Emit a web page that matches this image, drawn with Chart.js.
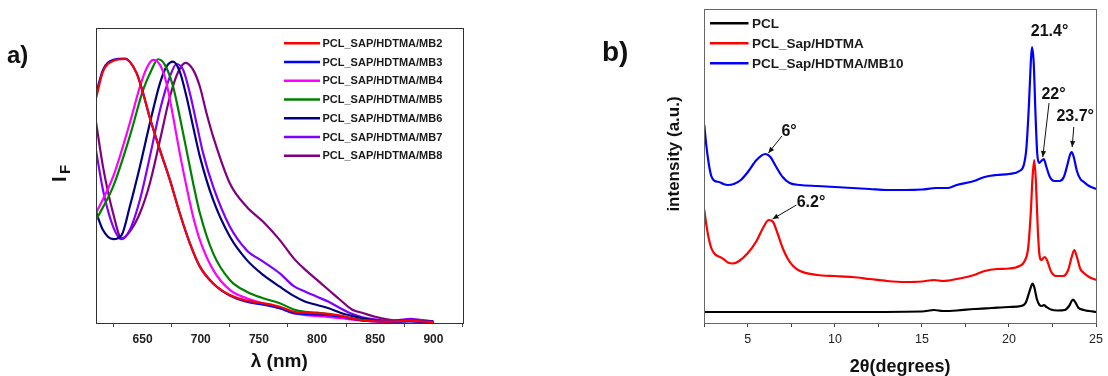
<!DOCTYPE html>
<html><head><meta charset="utf-8">
<script src="https://cdn.jsdelivr.net/npm/chart.js@4.4.1/dist/chart.umd.min.js"></script>
<style>
html,body{margin:0;padding:0;background:#fff;width:1108px;height:376px;overflow:hidden}
canvas{position:absolute;top:0}
#ca{left:0}
#cb{left:560px}
</style></head><body>
<canvas id="ca" width="480" height="376"></canvas>
<canvas id="cb" width="548" height="376"></canvas>
<script>
const FONT = '"Liberation Sans", Arial, Helvetica, sans-serif';

// ---------------- Panel a : fluorescence spectra ----------------
const namesA = ['PCL_SAP/HDTMA/MB2','PCL_SAP/HDTMA/MB3','PCL_SAP/HDTMA/MB4','PCL_SAP/HDTMA/MB5','PCL_SAP/HDTMA/MB6','PCL_SAP/HDTMA/MB7','PCL_SAP/HDTMA/MB8'];
const colorsA = ['#ff0000','#0000ff','#ff00ff','#008000','#000080','#8000ff','#800080'];
const mb2 = [[610,76.2],[616,85.2],[625,88.9],[635,89.5],[639,88.6],[645,84.6],[650.5,77.9],[656,69.9],[665,58.6],[673.5,48.5],[682,37.2],[690.7,27.0],[699.3,19.1],[710.7,13.4],[725,9.5],[739.5,7.6],[753.7,6.7],[768,5.5],[780,3.8],[790,3.5],[800,3.3],[810,3.1],[820,2.5],[830,1.6],[840,0.8],[850,0.6],[860,0.5],[870,0.6],[880,0.8],[890,0.5],[900,0.3]];
const mb3 = [[610,77.6],[616,85.8],[625,89.2],[635,89.6],[639,88.6],[645,84.6],[650.5,77.9],[656,69.9],[665,58.6],[673.5,48.5],[682,37.2],[690.7,27.0],[699.3,19.1],[710.7,13.4],[725,9.3],[739.5,7.2],[753.7,6.2],[768,5.0],[780,3.3],[790,3.0],[800,2.8],[810,2.7],[820,2.2],[830,1.5],[840,0.8],[850,0.6],[860,0.5],[870,0.5],[880,0.6],[890,0.4],[900,0.3]];
const mb4 = [[610,37.2],[624.7,49.6],[639,67.7],[647.7,80.1],[653.4,86.3],[659,89.2],[665,87.5],[670.6,81.3],[676.3,69.9],[682,57.5],[687.8,46.2],[693.5,36.0],[699.3,28.1],[710.7,18.0],[725,11.2],[739.5,8.4],[753.7,6.7],[768,5.0],[780,3.3],[790,2.7],[800,2.4],[820,1.6],[840,0.8],[860,0.5],[880,0.6],[900,0.3]];
const mb5 = [[610,34.9],[624.7,46.2],[639,63.2],[650.5,79.0],[657.7,85.8],[663.4,89.4],[669.2,87.5],[676.3,80.1],[682,69.9],[687.8,58.6],[693.5,47.4],[699.3,37.2],[710.7,23.6],[725,14.6],[739.5,10.6],[753.7,8.4],[768,6.7],[780,4.6],[790,3.8],[800,3.5],[810,2.9],[820,2.1],[840,1.0],[860,0.5],[880,0.6],[900,0.3]];
const mb6 = [[610,37.7],[616,31.5],[624.7,28.4],[632,29.8],[639,39.4],[647.7,53.0],[656.3,67.7],[665,81.3],[670.6,86.9],[676.3,88.6],[682,85.2],[687.8,76.7],[693.5,66.5],[699.3,56.4],[710.7,41.7],[725,29.3],[739.5,21.4],[753.7,16.3],[768,12.3],[780,9.2],[790,7.2],[800,6.1],[810,5.0],[820,3.5],[830,2.4],[840,1.5],[850,0.9],[860,0.6],[880,0.8],[900,0.4]];
const mb7 = [[610,58.6],[616,45.1],[624.7,32.7],[632,28.4],[639,31.5],[647.7,41.7],[656.3,56.4],[665,72.2],[673.5,83.5],[679.2,87.8],[684.9,85.8],[690.7,77.9],[696.4,67.7],[702.1,57.5],[710.7,46.2],[725,32.7],[739.5,24.7],[753.7,20.8],[768,16.8],[780,12.5],[790,10.6],[800,8.9],[810,7.2],[820,5.0],[830,3.1],[840,1.8],[850,1.2],[860,0.8],[870,1.0],[880,1.4],[890,1.0],[900,0.6]];
const mb8 = [[610,68.2],[616,53.0],[624.7,37.2],[632,28.7],[639,31.0],[647.7,37.2],[656.3,47.4],[665,62.0],[673.5,76.7],[680.7,85.2],[687.2,88.2],[693.5,85.8],[699.3,80.1],[705,71.1],[710.7,63.2],[725,47.4],[739.5,39.4],[753.7,34.3],[768,28.1],[780,21.9],[790,18.0],[800,14.6],[810,11.2],[820,7.8],[830,4.6],[840,3.3],[850,2.1],[860,1.2],[870,0.8],[880,1.0],[890,0.8],[900,0.5]];
const seriesA = [mb2, mb3, mb4, mb5, mb6, mb7, mb8];
const xTicksA = [625,650,675,700,725,750,775,800,825,850,875,900,925];
const xLabelsA = [650,700,750,800,850,900];

// ---------------- Panel b : XRD patterns ----------------
const namesB = ['PCL','PCL_Sap/HDTMA','PCL_Sap/HDTMA/MB10'];
const colorsB = ['#000000','#ff0000','#0000ff'];
const pcl = [[2.5,11],[5,11],[10,11],[15,11.5],[15.7,13],[16.2,12],[17,12.5],[18,14],[19,15],[20,16],[20.7,17],[20.95,20],[21.15,30],[21.3,38],[21.35,39.5],[21.45,36],[21.6,24],[21.75,18],[21.9,17],[22.0,18],[22.15,16],[22.4,13.5],[22.8,12.5],[23.2,13],[23.45,17],[23.6,22],[23.68,23.5],[23.8,21],[24.0,15],[24.3,13],[24.6,12],[25,11]];
const pclSap = [[2.5,113],[2.6,100],[2.75,85],[2.9,75],[3.1,69],[3.4,66],[3.6,64],[3.85,60.5],[4.15,59.5],[4.5,62],[5.0,70],[5.5,82],[5.9,96],[6.2,103],[6.45,101],[6.7,90],[7.0,75],[7.3,64],[7.6,57],[8.0,52],[9,48],[10,47],[11,46],[12,44],[13,42],[14,41],[15,41.5],[15.7,43],[16.2,42],[17,44],[18,48],[18.6,52],[19.3,54],[20,54.5],[20.6,57],[20.9,62],[21.1,75],[21.25,110],[21.35,145],[21.45,163],[21.55,140],[21.65,95],[21.75,68],[21.85,63],[22.05,66],[22.2,62],[22.4,52],[22.7,47],[23.1,47],[23.4,53],[23.6,66],[23.75,73],[23.9,66],[24.1,54],[24.3,50],[24.6,46],[25,43]];
const pclSapMb10 = [[2.5,198],[2.6,180],[2.75,160],[2.9,147],[3.1,142],[3.35,141],[3.6,139],[3.85,138],[4.2,139],[4.6,143],[5.0,151],[5.5,163],[6.0,169],[6.3,166],[6.6,157],[7.0,146],[7.4,140],[8,138],[9,137],[10,136],[11,135],[12,134],[13,133],[14,133],[15,133.5],[15.8,135],[16.5,135],[17,138],[18,142],[18.6,146],[19.3,148],[20,149],[20.6,152],[20.85,158],[21.0,175],[21.15,220],[21.25,260],[21.32,276],[21.42,260],[21.52,210],[21.62,170],[21.72,160],[21.85,162],[22.0,164],[22.15,156],[22.35,146],[22.6,142],[22.9,142],[23.15,146],[23.35,158],[23.5,168],[23.6,171],[23.72,166],[23.9,152],[24.1,144],[24.3,141],[24.6,137],[25,134]];
const seriesB = [pcl, pclSap, pclSapMb10];
const xTicksB = [2.5,5,7.5,10,12.5,15,17.5,20,22.5,25];
const xLabelsB = [5,10,15,20,25];
const peakLabels = ['6°','6.2°','21.4°','22°','23.7°'];
const peakLabelAt = [[7.37,191],[8.63,120],[22.33,291],[22.56,228],[23.8,206]];
const peakArrowFrom = [[6.96,187],[7.79,118],null,[22.3,220],[23.72,196]];
const peakArrowTo = [[6.18,170],[6.42,104],null,[21.94,166],[23.63,176]];

// ---------------- helpers ----------------
function frame(color){
  return {id:'frame', afterDraw(c){
    const a=c.chartArea, ctx=c.ctx; ctx.save();
    ctx.strokeStyle=color; ctx.lineWidth=1;
    ctx.strokeRect(Math.round(a.left)+0.5, Math.round(a.top)+0.5, Math.round(a.right-a.left), Math.round(a.bottom-a.top));
    ctx.restore();
  }};
}
function legendPlugin(cfg){
  return {id:'lg', afterDraw(c){
    const ctx=c.ctx; ctx.save();
    ctx.font = 'bold '+cfg.size+'px '+FONT; ctx.textBaseline='middle'; ctx.fillStyle='#1a1a1a';
    c.data.datasets.forEach((d,i)=>{
      const y = cfg.y0 + i*cfg.dy;
      ctx.strokeStyle=d.borderColor; ctx.lineWidth=2.5;
      ctx.beginPath(); ctx.moveTo(cfg.x0,y); ctx.lineTo(cfg.x1,y); ctx.stroke();
      ctx.fillText(d.label, cfg.tx, y+0.5);
    });
    ctx.restore();
  }};
}
function arrowHead(ctx,x0,y0,x1,y1){
  const ang=Math.atan2(y1-y0,x1-x0), L=6, W=2.6;
  ctx.beginPath(); ctx.moveTo(x1,y1);
  ctx.lineTo(x1-L*Math.cos(ang)+W*Math.sin(ang), y1-L*Math.sin(ang)-W*Math.cos(ang));
  ctx.lineTo(x1-L*Math.cos(ang)-W*Math.sin(ang), y1-L*Math.sin(ang)+W*Math.cos(ang));
  ctx.closePath(); ctx.fill();
}
function xScale(min,max,ticks,labels,bold,size,title,titleSize,titlePadBottom,tickColor){
  return {
    type:'linear', position:'bottom', min:min, max:max,
    afterBuildTicks:(s)=>{ s.ticks = ticks.map(v=>({value:v})); },
    afterFit:(s)=>{ s.height = 53; },
    border:{display:false},
    grid:{display:true, drawOnChartArea:false, drawTicks:true, tickLength:4, tickWidth:1,
      tickColor:(ctx)=> (ctx.tick && tickColor(ctx.tick.value)) ? '#444' : 'rgba(0,0,0,0)'},
    ticks:{autoSkip:false, maxRotation:0, padding:5, color:'#222',
      font:{family:FONT, size:size, weight: bold?'bold':'normal'},
      callback:(v)=> labels.includes(v) ? String(v) : ''},
    title:{display:true, text:title, color:'#111', padding:{top:0,bottom:titlePadBottom},
      font:{family:FONT, size:titleSize, weight:'bold', lineHeight:1}}
  };
}

// ---------------- Chart a ----------------
new Chart(document.getElementById('ca'), {
  type:'line',
  data:{datasets: seriesA.map((s,i)=>({label:namesA[i], data:s, borderColor:colorsA[i], backgroundColor:colorsA[i],
    borderWidth:2.2, pointRadius:0, fill:false, cubicInterpolationMode:'monotone'}))},
  options:{
    responsive:false, animation:false, devicePixelRatio:1,
    layout:{padding:{left:96, top:28, right:17.5, bottom:0}},
    plugins:{legend:{display:false}, tooltip:{enabled:false}},
    scales:{
      x: xScale(610,925,xTicksA,xLabelsA,true,12,'λ (nm)',19,5,(v)=> (v-625)%50===0),
      y: {display:false, min:0, max:100}
    }
  },
  plugins:[frame('#333'), legendPlugin({x0:284,x1:320,tx:322.5,y0:43.3,dy:18.75,size:11}),
    {id:'txtA', afterDraw(c){
      const ctx=c.ctx; ctx.save(); ctx.fillStyle='#111';
      ctx.font='bold 24px '+FONT; ctx.textBaseline='alphabetic'; ctx.fillText('a)', 7, 63);
      ctx.translate(66,182); ctx.rotate(-Math.PI/2);
      ctx.font='bold 20px '+FONT; ctx.fillText('I', 0, 0);
      ctx.font='bold 15px '+FONT; ctx.fillText('F', 8, 4);
      ctx.restore();
    }}]
});

// ---------------- Chart b ----------------
new Chart(document.getElementById('cb'), {
  type:'line',
  data:{datasets: seriesB.map((s,i)=>({label:namesB[i], data:s, borderColor:colorsB[i], backgroundColor:colorsB[i],
    borderWidth:2.2, pointRadius:0, fill:false, cubicInterpolationMode:'monotone'}))},
  options:{
    responsive:false, animation:false, devicePixelRatio:1,
    layout:{padding:{left:144.3, top:9, right:8, bottom:0}},
    plugins:{legend:{display:false}, tooltip:{enabled:false}},
    scales:{
      x: xScale(2.5,25,xTicksB,xLabelsB,false,12.5,'2θ(degrees)',18,0,()=>true),
      y: {display:false, min:0, max:314}
    }
  },
  plugins:[frame('#666'), legendPlugin({x0:150,x1:188.5,tx:192,y0:23.3,dy:20,size:13.5}),
    {id:'txtB', afterDraw(c){
      const ctx=c.ctx, xs=c.scales.x, ys=c.scales.y; ctx.save(); ctx.fillStyle='#111'; ctx.strokeStyle='#111';
      ctx.font='bold 28px '+FONT; ctx.textBaseline='alphabetic'; ctx.fillText('b)', 42, 61);
      ctx.save(); ctx.translate(114,154); ctx.rotate(-Math.PI/2);
      ctx.font='bold 17px '+FONT; ctx.textAlign='center'; ctx.textBaseline='middle';
      ctx.fillText('intensity (a.u.)',0,0); ctx.restore();
      ctx.font='bold 16px '+FONT; ctx.textAlign='center'; ctx.textBaseline='middle';
      peakLabels.forEach((t,i)=>{
        ctx.fillText(t, xs.getPixelForValue(peakLabelAt[i][0]), ys.getPixelForValue(peakLabelAt[i][1]));
        if(peakArrowFrom[i]){
          const x0=xs.getPixelForValue(peakArrowFrom[i][0]), y0=ys.getPixelForValue(peakArrowFrom[i][1]);
          const x1=xs.getPixelForValue(peakArrowTo[i][0]), y1=ys.getPixelForValue(peakArrowTo[i][1]);
          ctx.lineWidth=1; ctx.beginPath(); ctx.moveTo(x0,y0); ctx.lineTo(x1,y1); ctx.stroke();
          arrowHead(ctx,x0,y0,x1,y1);
        }
      });
      ctx.restore();
    }}]
});
</script>
</body></html>
